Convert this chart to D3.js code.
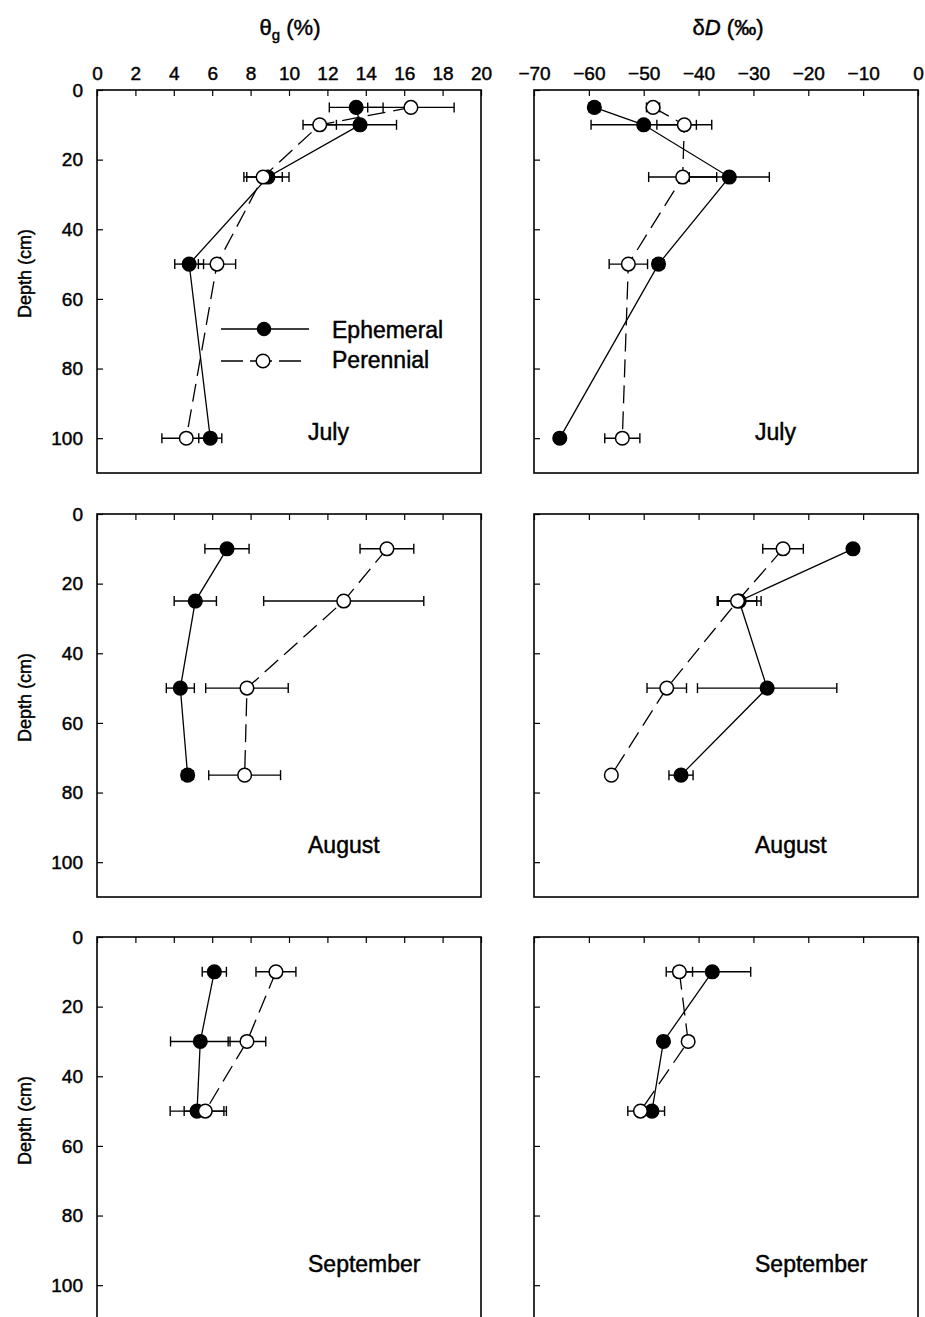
<!DOCTYPE html>
<html>
<head>
<meta charset="utf-8">
<script src="https://cdn.jsdelivr.net/npm/d3@7"></script>
<style>
  body { margin: 0; background: #fff; }
  svg { display: block; font-family: "Liberation Sans", Arial, Helvetica, sans-serif; }
  svg text { stroke: #000; stroke-width: 0.45px; }
</style>
</head>
<body>
<div class="canva"></div>
<script>
// sampling depths (cm) per month
const depthsJul = [5, 10, 25, 50, 100];
const depthsAug = [10, 25, 50, 75];
const depthsSep = [10, 30, 50];

// gravimetric water content (%), mean and error
const thetaEphJul = [13.5, 13.7, 8.9, 4.8, 5.9];
const thetaEphJulErr = [1.4, 1.9, 1.1, 0.75, 0.6];
const thetaPerJul = [16.35, 11.6, 8.65, 6.25, 4.65];
const thetaPerJulErr = [2.25, 0.87, 1.0, 0.97, 1.27];

const thetaEphAug = [6.77, 5.12, 4.34, 4.72];
const thetaEphAugErr = [1.15, 1.1, 0.73, 0.3];
const thetaPerAug = [15.1, 12.85, 7.81, 7.69];
const thetaPerAugErr = [1.4, 4.17, 2.15, 1.87];

const thetaEphSep = [6.11, 5.38, 5.21];
const thetaEphSepErr = [0.63, 1.55, 1.4];
const thetaPerSep = [9.32, 7.81, 5.64];
const thetaPerSepErr = [1.04, 0.98, 1.1];

// soil water deltaD (permil), mean and error
const dDEphJul = [-59, -50, -34.4, -47.3, -65.3];
const dDEphJulErr = [1, 9.6, 7.3, 1, 0.5];
const dDPerJul = [-48.3, -42.6, -42.9, -52.8, -53.9];
const dDPerJulErr = [1.2, 5, 6.2, 3.5, 3.2];

const dDEphAug = [-11.85, -32.6, -27.5, -43.2];
const dDEphAugErr = [0.8, 4, 12.7, 2.2];
const dDPerAug = [-24.6, -32.9, -45.8, -55.9];
const dDPerAugErr = [3.7, 3.5, 3.6, 0.8];

const dDEphSep = [-37.5, -46.4, -48.5];
const dDEphSepErr = [7, 0.8, 2.3];
const dDPerSep = [-43.5, -41.9, -50.6];
const dDPerSepErr = [2.4, 0.8, 2.3];

const months = ['July', 'August', 'September'];
const depthTicks = [0, 20, 40, 60, 80, 100];
const thetaTicks = [0, 2, 4, 6, 8, 10, 12, 14, 16, 18, 20];
const dDTicks = [-70, -60, -50, -40, -30, -20, -10, 0];
const seriesNames = ['Ephemeral', 'Perennial'];

const svg = d3.select('.canva').append('svg')
    .attr('width', 925)
    .attr('height', 1317);

const panelW = 384, panelH = 383;
const colLeft = [97, 534];
const rowTop = [90, 514, 937];
const monthLabelY = [350, 339, 335];

const xTheta = d3.scaleLinear().domain([0, 20]).range([0, panelW]);
const xDelta = d3.scaleLinear().domain([-70, 0]).range([0, panelW]);
const y = d3.scaleLinear().domain([0, 110]).range([0, panelH]);

const rows = [
  { depths: depthsJul,
    theta: [thetaEphJul, thetaEphJulErr, thetaPerJul, thetaPerJulErr],
    dD: [dDEphJul, dDEphJulErr, dDPerJul, dDPerJulErr] },
  { depths: depthsAug,
    theta: [thetaEphAug, thetaEphAugErr, thetaPerAug, thetaPerAugErr],
    dD: [dDEphAug, dDEphAugErr, dDPerAug, dDPerAugErr] },
  { depths: depthsSep,
    theta: [thetaEphSep, thetaEphSepErr, thetaPerSep, thetaPerSepErr],
    dD: [dDEphSep, dDEphSepErr, dDPerSep, dDPerSepErr] }
];

// column titles
const t1 = svg.append('text')
    .attr('x', 290).attr('y', 35)
    .attr('text-anchor', 'middle')
    .attr('font-size', 22);
t1.append('tspan').text('θ');
t1.append('tspan').attr('font-size', 15).attr('dy', 5).text('g');
t1.append('tspan').attr('dy', -5).text(' (%)');

const t2 = svg.append('text')
    .attr('x', 728).attr('y', 35)
    .attr('text-anchor', 'middle')
    .attr('font-size', 22);
t2.append('tspan').text('δ');
t2.append('tspan').attr('font-style', 'italic').text('D');
t2.append('tspan').text(' (‰)');

function drawPanel(r, c) {
  const row = rows[r];
  const x = c === 0 ? xTheta : xDelta;
  const vals = c === 0 ? row.theta : row.dD;
  const depths = row.depths;

  const g = svg.append('g')
      .attr('transform', `translate(${colLeft[c]}, ${rowTop[r]})`);

  // top axis, ticks inward
  const xAxis = d3.axisTop(x)
      .tickValues(c === 0 ? thetaTicks : dDTicks)
      .tickSize(-6)
      .tickPadding(10)
      .tickFormat(r === 0 ? d3.format('d') : '');
  g.append('g').call(xAxis)
      .attr('font-size', 19).attr('font-family', null)
      .call(a => a.select('.domain').remove())
      .call(a => a.selectAll('line').attr('stroke-width', 1.2));

  // left axis, ticks inward
  const yAxis = d3.axisLeft(y)
      .tickValues(depthTicks)
      .tickSize(-6)
      .tickPadding(14)
      .tickFormat(c === 0 ? d3.format('d') : '');
  g.append('g').call(yAxis)
      .attr('font-size', 19).attr('font-family', null)
      .call(a => a.select('.domain').remove())
      .call(a => a.selectAll('line').attr('stroke-width', 1.2));

  g.append('rect')
      .attr('width', panelW).attr('height', panelH)
      .attr('fill', 'none').attr('stroke', '#000').attr('stroke-width', 1.6);

  if (c === 0) {
    svg.append('text')
        .attr('transform', `translate(31, ${rowTop[r] + panelH / 2 - 8}) rotate(-90)`)
        .attr('text-anchor', 'middle')
        .attr('font-size', 18)
        .text('Depth (cm)');
  }

  // connecting lines
  const series = [
    { mean: vals[0], err: vals[1], filled: true, dash: null },
    { mean: vals[2], err: vals[3], filled: false, dash: '18,8' }
  ];
  series.forEach(s => {
    const line = d3.line()
        .x((d, i) => x(s.mean[i]))
        .y(d => y(d));
    g.append('path').datum(depths)
        .attr('d', line)
        .attr('fill', 'none')
        .attr('stroke', '#000')
        .attr('stroke-width', 1.3)
        .attr('stroke-dasharray', s.dash);
  });

  // error bars
  series.forEach(s => {
    const eb = g.append('g').attr('stroke', '#000').attr('stroke-width', 1.4);
    depths.forEach((d, i) => {
      const x0 = x(s.mean[i] - s.err[i]), x1 = x(s.mean[i] + s.err[i]), yy = y(d);
      eb.append('line').attr('x1', x0).attr('x2', x1).attr('y1', yy).attr('y2', yy);
      eb.append('line').attr('x1', x0).attr('x2', x0).attr('y1', yy - 5).attr('y2', yy + 5);
      eb.append('line').attr('x1', x1).attr('x2', x1).attr('y1', yy - 5).attr('y2', yy + 5);
    });
  });

  // points
  series.forEach(s => {
    g.append('g').selectAll('circle')
        .data(depths)
        .enter().append('circle')
        .attr('cx', (d, i) => x(s.mean[i]))
        .attr('cy', d => y(d))
        .attr('r', 6.8)
        .attr('fill', s.filled ? '#000' : '#fff')
        .attr('stroke', '#000')
        .attr('stroke-width', 1.5);
  });

  g.append('text')
      .attr('x', c === 0 ? 211 : 221)
      .attr('y', monthLabelY[r])
      .attr('font-size', 23)
      .text(months[r]);

  // legend only in first panel
  if (r === 0 && c === 0) {
    const leg = g.append('g').attr('transform', 'translate(124, 239)');
    leg.append('line').attr('x1', 0).attr('x2', 88).attr('y1', 0).attr('y2', 0)
        .attr('stroke', '#000').attr('stroke-width', 1.3);
    leg.append('circle').attr('cx', 43).attr('cy', 0).attr('r', 6.8)
        .attr('fill', '#000').attr('stroke', '#000');
    leg.append('line').attr('x1', 0).attr('x2', 80).attr('y1', 32).attr('y2', 32)
        .attr('stroke', '#000').attr('stroke-width', 1.3).attr('stroke-dasharray', '22,7');
    leg.append('circle').attr('cx', 42).attr('cy', 32).attr('r', 6.8)
        .attr('fill', '#fff').attr('stroke', '#000').attr('stroke-width', 1.5);
    leg.selectAll('text.lab')
        .data(seriesNames)
        .enter().append('text')
        .attr('class', 'lab')
        .attr('x', 111)
        .attr('y', (d, i) => 9 + i * 30)
        .attr('font-size', 23)
        .text(d => d);
  }
}

for (let r = 0; r < 3; r++) {
  for (let c = 0; c < 2; c++) drawPanel(r, c);
}
</script>
</body>
</html>
